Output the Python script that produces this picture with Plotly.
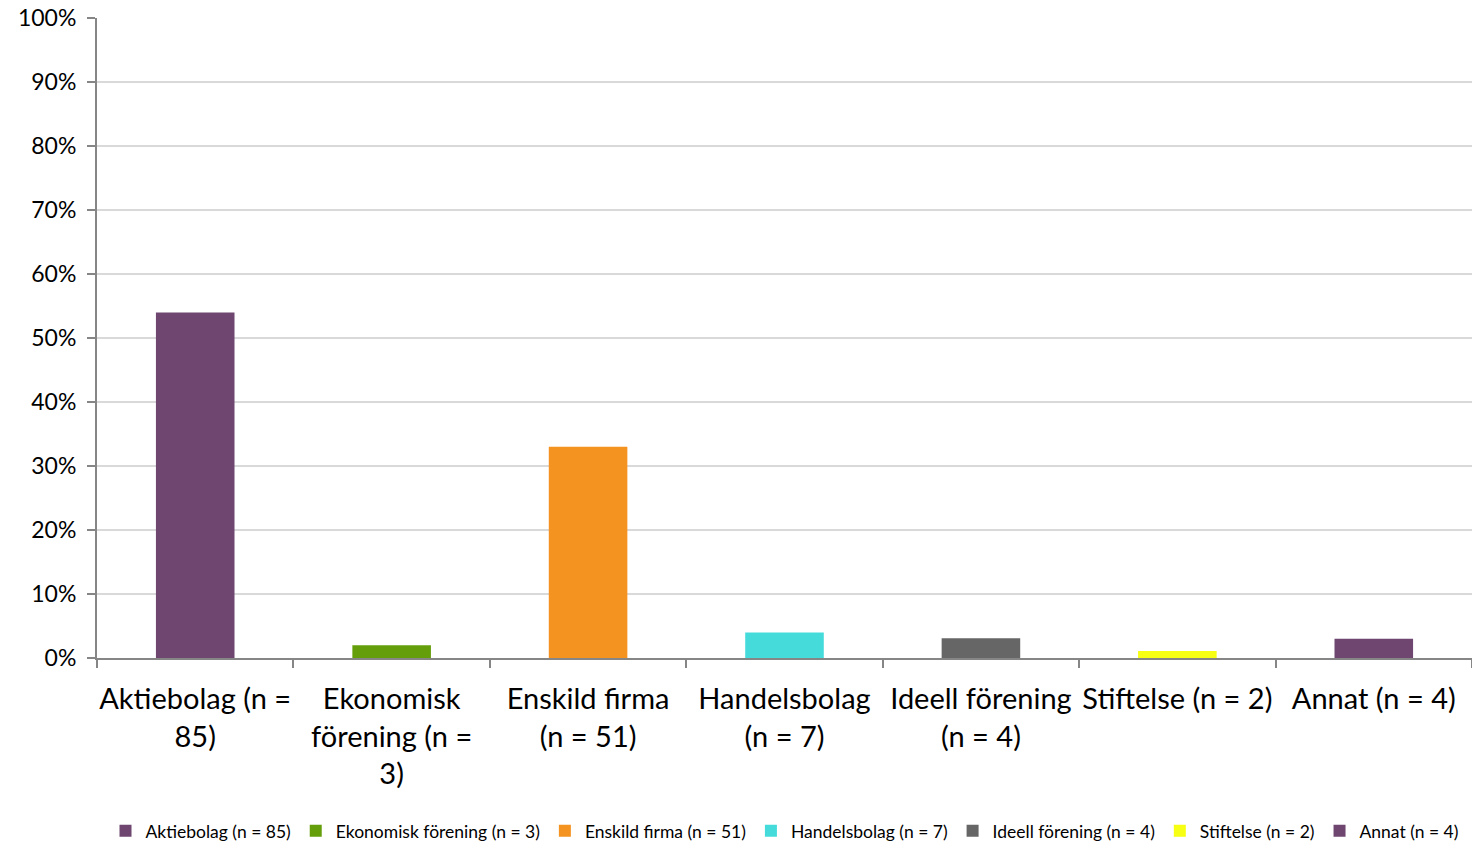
import plotly.graph_objects as go

categories = ["Aktiebolag (n = 85)", "Ekonomisk förening (n = 3)", "Enskild firma (n = 51)",
              "Handelsbolag (n = 7)", "Ideell förening (n = 4)", "Stiftelse (n = 2)", "Annat (n = 4)"]
tick_labels = ["Aktiebolag (n =<br>85)", "Ekonomisk<br>förening (n =<br>3)", "Enskild firma<br>(n = 51)",
               "Handelsbolag<br>(n = 7)", "Ideell förening<br>(n = 4)", "Stiftelse (n = 2)", "Annat (n = 4)"]
values = [0.54, 0.02, 0.33, 0.04, 0.031, 0.011, 0.03]
colors = ["#6E4670", "#659E0B", "#F59320", "#46DBDB", "#666666", "#F7FF12", "#6E4670"]

fig = go.Figure()
for cat, lab, v, c in zip(categories, tick_labels, values, colors):
    fig.add_trace(go.Bar(x=[lab], y=[v], name=cat, marker=dict(color=c, line=dict(width=0)),
                         width=0.4))

fig.update_layout(
    width=1472, height=849,
    margin=dict(l=97, r=0, t=18, b=184),
    plot_bgcolor="white", paper_bgcolor="white",
    barmode="overlay",
    font=dict(family="Lato, Open Sans, sans-serif", color="#000000"),
    showlegend=True,
    legend=dict(orientation="h", x=0.5, xanchor="center",
                y=-0.27, yanchor="middle",
                font=dict(size=17.5), traceorder="normal", itemwidth=30),
)
fig.update_xaxes(
    type="category", categoryorder="array", categoryarray=tick_labels,
    showline=True, linecolor="#868686", linewidth=2,
    ticks="outside", tickson="boundaries", ticklen=8, tickcolor="#868686", tickwidth=2,
    tickfont=dict(size=29), tickangle=0, showgrid=False, automargin=False,
    ticklabelstandoff=14, ticklabeloverflow="allow",
)
fig.update_yaxes(
    range=[0, 1], dtick=0.1, tickformat=".0%",
    showline=True, linecolor="#868686", linewidth=2,
    ticks="outside", ticklen=8, tickcolor="#868686", tickwidth=2,
    showgrid=True, gridcolor="#D9D9D9", gridwidth=2,
    tickfont=dict(size=23), zeroline=False, automargin=False, ticklabelstandoff=6,
    ticklabeloverflow="allow",
)

fix_page = (
    "var h=document.documentElement, b=document.body;"
    "h.style.margin='0'; h.style.padding='0'; h.style.overflow='hidden'; h.style.height='849px';"
    "b.style.margin='0'; b.style.padding='0'; b.style.overflow='hidden'; b.style.height='849px';"
)
fig.write_html("out.html", post_script=fix_page, config={"displayModeBar": False})
